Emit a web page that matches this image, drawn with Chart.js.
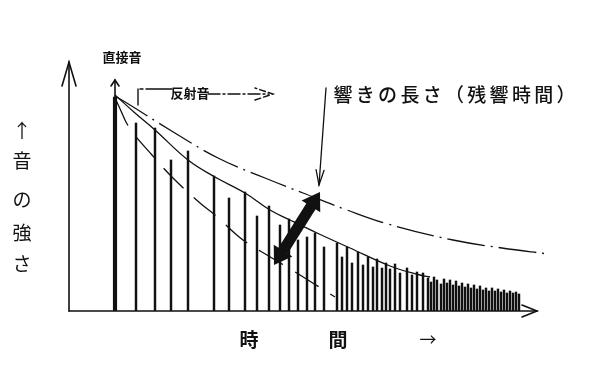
<!DOCTYPE html>
<html>
<head>
<meta charset="utf-8">
<script src="https://cdn.jsdelivr.net/npm/chart.js@4.4.1/dist/chart.umd.min.js"></script>
<style>
  html, body { margin: 0; padding: 0; background: #fff; }
  #wrap { width: 601px; height: 370px; }
</style>
</head>
<body>
<div id="wrap"><canvas id="c" width="601" height="370"></canvas></div>
<script>
// 図から読み取った値 (時間 = x, 音の強さ = y)
const directX = [46];
const directY = [214];

// 反射音 (縦線)
const reflX = [67, 86, 102, 119, 145, 160, 176, 188, 200, 211, 220, 229, 238, 246, 255, 268, 273, 278, 283, 289,
  294, 299, 304, 308, 313, 317, 321, 326, 331, 338, 343, 348, 354, 359, 362, 365, 368, 372, 375, 378,
  381, 384, 387, 390, 393, 396, 399, 402, 405, 408, 411, 414, 417, 420, 423, 426, 429, 432, 435, 438,
  441, 444, 447, 450];
const reflY = [188, 183, 151, 160, 135, 113, 119, 95, 105, 86, 92, 71, 74, 78, 64, 68, 54, 64, 48, 59,
  46, 54, 44, 52, 43, 48, 42, 47, 38, 43, 36, 39, 38, 33, 29, 34, 31, 27, 32, 28,
  31, 26, 30, 25, 28, 24, 27, 23, 26, 22, 25, 21, 23, 20, 23, 20, 22, 19, 21, 18,
  20, 18, 19, 17];

// 包絡線 (実線)
const solidX = [46, 66, 86, 119, 146, 176, 201, 221, 248, 281, 321, 351, 361];
const solidY = [216, 198, 181, 151, 134, 118, 101, 91, 78, 63, 45, 36, 34];

// 上の一点鎖線
const upperX = [46, 61, 101, 149, 196, 234, 278, 319, 384, 433, 479];
const upperY = [215, 206, 181, 153, 133, 118, 101, 87, 71, 63, 57];

// 下の破線
const lowerX = [47, 52, 57, 64, 83, 103, 131, 146, 174, 198, 223, 266];
const lowerY = [211, 200, 189, 178, 156, 134, 108, 96, 71, 56, 41, 14];

const directLabel = '直接音';
const reflLabel = '反射音';
const titleText = '響きの長さ（残響時間）';
const yLabelChars = ['↑', '音', 'の', '強', 'さ'];
const yLabelPos = [180, 150, 111, 78, 47];
const xLabelChars = ['時', '間', '→'];
const xLabelPos = [180, 269, 359];

const INK = '#111';
const JP = '"Noto Sans CJK JP", "Noto Sans", sans-serif';

const pts = (xs, ys) => xs.map((x, i) => ({ x: x, y: ys[i] }));

function seg(ctx, x1, y1, x2, y2) {
    ctx.beginPath();
    ctx.moveTo(x1, y1);
    ctx.lineTo(x2, y2);
    ctx.stroke();
}

// 開いた矢じり (V)
function openHead(ctx, x1, y1, x2, y2, len, half) {
    const a = Math.atan2(y2 - y1, x2 - x1);
    const c = Math.cos(a), s = Math.sin(a);
    ctx.beginPath();
    ctx.moveTo(x2 - c * len - s * half, y2 - s * len + c * half);
    ctx.lineTo(x2, y2);
    ctx.lineTo(x2 - c * len + s * half, y2 - s * len - c * half);
    ctx.stroke();
}

function filledHead(ctx, x1, y1, x2, y2, len, half) {
    const a = Math.atan2(y2 - y1, x2 - x1);
    const c = Math.cos(a), s = Math.sin(a);
    ctx.beginPath();
    ctx.moveTo(x2, y2);
    ctx.lineTo(x2 - c * len - s * half, y2 - s * len + c * half);
    ctx.lineTo(x2 - c * len + s * half, y2 - s * len - c * half);
    ctx.closePath();
    ctx.fill();
}

const drawing = {
    id: 'drawing',
    afterDatasetsDraw(chart) {
        const ctx = chart.ctx;
        const px = v => chart.scales.x.getPixelForValue(v);
        const py = v => chart.scales.y.getPixelForValue(v);
        ctx.save();
        ctx.strokeStyle = INK;
        ctx.fillStyle = INK;
        ctx.lineCap = 'round';

        // 軸
        ctx.lineWidth = 1.6;
        seg(ctx, px(0), py(0), px(0), py(249));
        openHead(ctx, px(0), py(0), px(0), py(249), 24, 7);
        seg(ctx, px(0), py(0), px(468), py(0));
        openHead(ctx, px(0), py(0), px(468), py(0), 15, 6);

        // 直接音の矢じり
        ctx.lineWidth = 1.6;
        seg(ctx, px(directX[0]), py(directY[0]), px(directX[0]), py(231));
        openHead(ctx, px(directX[0]), py(directY[0]), px(directX[0]), py(231), 6, 4);

        // 反射音の引き出し線
        ctx.lineWidth = 1.4;
        seg(ctx, px(69), py(206), px(69), py(222));
        ctx.setLineDash([3, 3, 28, 0]);
        seg(ctx, px(71), py(222), px(103), py(222));
        ctx.setLineDash([12, 3, 2, 3]);
        seg(ctx, px(139), py(217), px(200), py(217));
        ctx.setLineDash([6, 3]);
        openHead(ctx, px(139), py(217), px(204), py(217), 18, 6);
        ctx.setLineDash([]);

        // 響きの長さを指す細い矢印
        ctx.lineWidth = 1.3;
        seg(ctx, px(257), py(223), px(250), py(126));
        openHead(ctx, px(257), py(223), px(250), py(126), 15, 4);

        // 太い両矢印
        const ax = px(205), ay = py(46), bx = px(251), by = py(119);
        const a = Math.atan2(by - ay, bx - ax);
        const c = Math.cos(a), s = Math.sin(a);
        ctx.lineWidth = 11;
        ctx.lineCap = 'butt';
        seg(ctx, ax + c * 12, ay + s * 12, bx - c * 12, by - s * 12);
        filledHead(ctx, ax, ay, bx, by, 17, 11);
        filledHead(ctx, bx, by, ax, ay, 17, 11);

        // 文字
        ctx.textAlign = 'center';
        ctx.textBaseline = 'middle';
        ctx.font = 'bold 13px ' + JP;
        ctx.fillText(directLabel, px(53), py(254));
        ctx.fillText(reflLabel, px(121), py(218));

        ctx.font = '500 19px ' + JP;
        [...titleText].forEach((ch, i) => ctx.fillText(ch, px(274 + i * 22.3), py(216)));

        ctx.font = '19px ' + JP;
        yLabelChars.forEach((ch, i) => ctx.fillText(ch, px(-47), py(yLabelPos[i])));
        xLabelChars.forEach((ch, i) => {
            ctx.font = (ch === '→' ? '17px ' : 'bold 19px ') + JP;
            ctx.fillText(ch, px(xLabelPos[i]), py(-29));
        });
        ctx.restore();
    }
};

const lineStyle = {
    type: 'line',
    borderColor: INK,
    borderWidth: 1.3,
    pointRadius: 0,
    fill: false,
    tension: 0.4,
    clip: false
};

new Chart(document.getElementById('c'), {
    type: 'bar',
    data: {
        datasets: [
            { label: '直接音', data: pts(directX, directY), backgroundColor: INK, barThickness: 3.5 },
            { label: '反射音', data: pts(reflX, reflY), backgroundColor: INK, barThickness: 1.8 },
            { ...lineStyle, label: '包絡線', data: pts(solidX, solidY) },
            { ...lineStyle, label: '上', data: pts(upperX, upperY), borderDash: [38, 6, 2, 6] },
            { ...lineStyle, label: '下', data: pts(lowerX, lowerY), borderDash: [28, 14] }
        ]
    },
    options: {
        responsive: false,
        animation: false,
        layout: { padding: { left: 69, right: 51, top: 60, bottom: 59 } },
        plugins: { legend: { display: false }, tooltip: { enabled: false } },
        datasets: { bar: { grouped: false } },
        scales: {
            x: { type: 'linear', min: 0, max: 481, offset: false, display: false },
            y: { type: 'linear', min: 0, max: 251, display: false }
        }
    },
    plugins: [drawing]
});
</script>
</body>
</html>
